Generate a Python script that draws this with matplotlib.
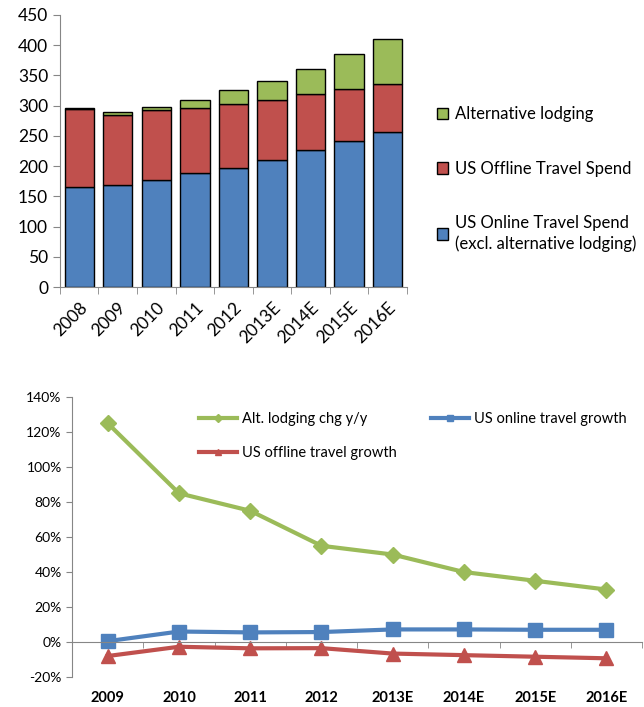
import numpy as np
import matplotlib.pyplot as plt
from matplotlib.ticker import FuncFormatter

plt.rcParams['font.family'] = ['Lato', 'DejaVu Sans']

# top chart data (USD bn)
years = ["2008", "2009", "2010", "2011", "2012", "2013E", "2014E", "2015E", "2016E"]
online = [166, 169, 177, 188, 196, 210, 227, 241, 257]
offline = [128, 115, 115, 108, 107, 100, 92, 86, 78]
alt_lodging = [2, 5, 6, 14, 22, 30, 42, 58, 75]

# bottom chart data (growth, %)
g_years = ["2009", "2010", "2011", "2012", "2013E", "2014E", "2015E", "2016E"]
alt_chg = [125, 85, 75, 55, 50, 40, 35, 30]
online_gr = [0.5, 6, 5.5, 5.7, 7.2, 7.2, 7, 7]
offline_gr = [-8, -2.7, -3.6, -3.5, -6.6, -7.5, -8.4, -9.3]

blue = '#4F81BD'
red = '#C0504D'
green = '#9BBB59'
axcol = '#868686'

fig = plt.figure(figsize=(6.44, 7.07), dpi=100)

# ---- stacked bars
ax = fig.add_axes([0.093, 0.594, 0.539, 0.385])
x = np.arange(len(years))
w = 0.76
b1 = ax.bar(x, online, w, color=blue, edgecolor='black', linewidth=1)
b2 = ax.bar(x, offline, w, bottom=online, color=red, edgecolor='black', linewidth=1)
bot = [a + b for a, b in zip(online, offline)]
b3 = ax.bar(x, alt_lodging, w, bottom=bot, color=green, edgecolor='black', linewidth=1)

ax.set_xlim(-0.5, len(years) - 0.5)
ax.set_ylim(0, 450)
ax.set_yticks(range(0, 451, 50))
ax.set_xticks(x)
ax.set_xticklabels(years, rotation=45, ha='right', rotation_mode='anchor')
ax.set_xticks(np.arange(-0.5, len(years)), minor=True)
ax.tick_params(axis='x', which='major', length=0, pad=9, labelsize=12.5)
ax.tick_params(axis='x', which='minor', length=5, color=axcol)
ax.tick_params(axis='y', length=5, color=axcol, labelsize=12.5)
for s in ['top', 'right']:
    ax.spines[s].set_visible(False)
for s in ['left', 'bottom']:
    ax.spines[s].set_color(axcol)

leg = fig.legend([b3, b2, b1],
                 ["Alternative lodging", "US Offline Travel Spend",
                  "US Online Travel Spend\n(excl. alternative lodging)"],
                 loc='upper left', bbox_to_anchor=(0.655, 0.871), frameon=False,
                 fontsize=12, handlelength=0.7, handleheight=0.7, handletextpad=0.4,
                 labelspacing=2.3)
for t in leg.get_texts():
    t.set_linespacing(1.35)

# ---- growth lines
ax2 = fig.add_axes([0.112, 0.0424, 0.885, 0.396])
gx = np.arange(len(g_years))
ax2.plot(gx, alt_chg, color=green, lw=3, marker='D', ms=8,
         label="Alt. lodging chg y/y")
ax2.plot(gx, offline_gr, color=red, lw=3, marker='^', ms=10,
         label="US offline travel growth")
ax2.plot(gx, online_gr, color=blue, lw=3, marker='s', ms=10,
         label="US online travel growth")

ax2.set_xlim(-0.5, len(g_years) - 0.5)
ax2.set_ylim(-20, 140)
ax2.set_yticks(range(-20, 141, 20))
ax2.yaxis.set_major_formatter(FuncFormatter(lambda v, p: '%d%%' % v))
ax2.tick_params(axis='y', length=4, color=axcol, labelsize=10)
ax2.spines['bottom'].set_position(('data', 0))
ax2.spines['bottom'].set_color(axcol)
ax2.spines['left'].set_color(axcol)
for s in ['top', 'right']:
    ax2.spines[s].set_visible(False)
ax2.set_xticks(gx)
ax2.tick_params(axis='x', which='major', length=0, labelbottom=False)
ax2.set_xticks(np.arange(-0.5, len(g_years)), minor=True)
ax2.tick_params(axis='x', which='minor', length=4, color=axcol)

sec = ax2.secondary_xaxis(0)
sec.set_xticks(gx)
sec.set_xticklabels(g_years, fontweight='bold', fontsize=10.5)
sec.tick_params(length=0, pad=10)
sec.spines['bottom'].set_visible(False)

ax2.legend(loc='upper left', bbox_to_anchor=(0.2, 0.993), ncol=2, frameon=False,
           fontsize=10.5, markerscale=0.5, handlelength=2.6, handletextpad=0.3,
           columnspacing=2.4, labelspacing=1.35)

fig.savefig('out.png', dpi=100)
